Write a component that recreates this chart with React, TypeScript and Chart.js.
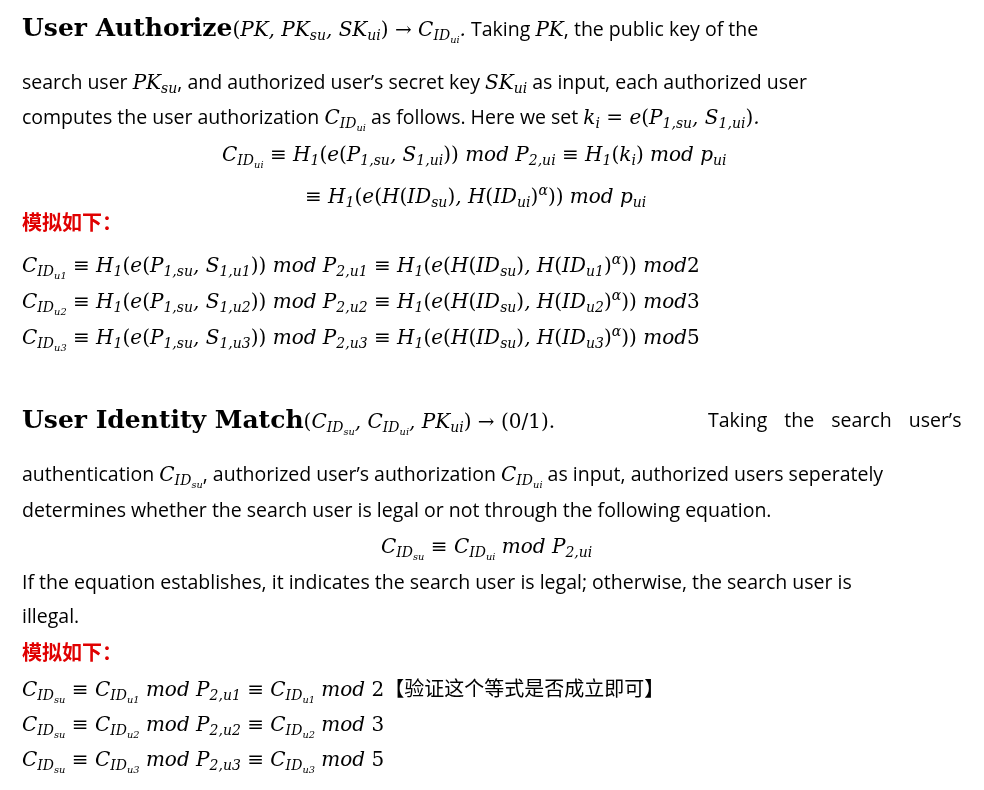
import { useEffect, useRef } from 'react';
import { Chart, registerables } from 'chart.js';

Chart.register(...registerables);

// simulated users and their moduli
const users = ['u1', 'u2', 'u3'];
const moduli = [2, 3, 5];

const mathFont = '"DejaVu Serif", serif';
const textFont = '"Open Sans", sans-serif';

const M = ({ children }: any) => (
  <span style={{ fontFamily: mathFont, fontStyle: 'italic', fontSize: 20 }}>{children}</span>
);
const R = ({ children }: any) => (
  <span style={{ fontFamily: mathFont, fontStyle: 'normal' }}>{children}</span>
);
const S = ({ children }: any) => (
  <sub style={{ fontSize: '0.7em', verticalAlign: '-0.3em', lineHeight: 0 }}>{children}</sub>
);
const CID = ({ s }: { s: string }) => (
  <M>C<S>ID<S>{s}</S></S></M>
);

const Line = ({ y, x = 22, children, style }: any) => (
  <div style={{ position: 'absolute', top: y - 15, left: x, height: 30, lineHeight: '30px', whiteSpace: 'nowrap', fontFamily: textFont, fontSize: 19.5, color: '#000', ...style }}>
    {children}
  </div>
);

const Red = ({ y }: { y: number }) => (
  <Line y={y} style={{ color: '#e00000', fontFamily: '"Noto Sans CJK SC", sans-serif', fontWeight: 700, fontSize: 20 }}>模拟如下：</Line>
);

export default function App() {
  const ref = useRef<HTMLCanvasElement>(null);
  useEffect(() => {
    if (!ref.current) return;
    const chart = new Chart(ref.current, {
      type: 'scatter',
      data: { datasets: [{ data: [] }] },
      options: {
        animation: false,
        responsive: false,
        plugins: { legend: { display: false }, tooltip: { enabled: false } },
        scales: { x: { display: false }, y: { display: false } },
      },
    });
    return () => chart.destroy();
  }, []);

  return (
    <div style={{ position: 'relative', width: 984, height: 790, margin: -8, background: '#fff', overflow: 'hidden' }}>
      <canvas ref={ref} width={984} height={790} style={{ position: 'absolute', left: 0, top: 0 }} />
      <Line y={28}>
        <b style={{ fontFamily: mathFont, fontSize: 25 }}>User Authorize</b>
        <M><R>(</R>PK, PK<S>su</S>, SK<S>ui</S><R>) → </R>C<S>ID<S>ui</S></S>.</M>
        {'  '}Taking <M>PK</M>, the public key of the
      </Line>
      <Line y={82}>
        search user <M>PK<S>su</S></M>, and authorized user’s secret key <M>SK<S>ui</S></M> as input, each authorized user
      </Line>
      <Line y={117}>
        computes the user authorization <CID s="ui" /> as follows. Here we set <M>k<S>i</S> <R>=</R> e<R>(</R>P<S>1,su</S>, S<S>1,ui</S><R>)</R>.</M>
      </Line>
      <Line y={154} x={222}>
        <M>C<S>ID<S>ui</S></S> <R>≡</R> H<S>1</S><R>(</R>e<R>(</R>P<S>1,su</S>, S<S>1,ui</S><R>))</R> mod P<S>2,ui</S> <R>≡</R> H<S>1</S><R>(</R>k<S>i</S><R>)</R> mod p<S>ui</S></M>
      </Line>
      <Line y={190} x={305}>
        <M><R>≡</R> H<S>1</S><R>(</R>e<R>(</R>H<R>(</R>ID<S>su</S><R>)</R>, H<R>(</R>ID<S>ui</S><R>)</R><sup style={{ fontSize: '0.7em' }}>α</sup><R>))</R> mod p<S>ui</S></M>
      </Line>
      <Red y={222} />
      {users.map((u, i) => (
        <Line key={u} y={259 + i * 36}>
          <M>C<S>ID<S>{u}</S></S> <R>≡</R> H<S>1</S><R>(</R>e<R>(</R>P<S>1,su</S>, S<S>1,{u}</S><R>))</R> mod P<S>2,{u}</S> <R>≡</R> H<S>1</S><R>(</R>e<R>(</R>H<R>(</R>ID<S>su</S><R>)</R>, H<R>(</R>ID<S>{u}</S><R>)</R><sup style={{ fontSize: '0.7em' }}>α</sup><R>))</R> mod<R>{moduli[i]}</R></M>
        </Line>
      ))}
      <Line y={420}>
        <b style={{ fontFamily: mathFont, fontSize: 25 }}>User Identity Match</b>
        <M><R>(</R>C<S>ID<S>su</S></S>, C<S>ID<S>ui</S></S>, PK<S>ui</S><R>) → (0/1).</R></M>
      </Line>
      <Line y={420} x={708} style={{ wordSpacing: 12 }}>Taking the search user’s</Line>
      <Line y={474}>
        authentication <CID s="su" />, authorized user’s authorization <CID s="ui" /> as input, authorized users seperately
      </Line>
      <Line y={510}>determines whether the search user is legal or not through the following equation.</Line>
      <Line y={546} x={381}>
        <M>C<S>ID<S>su</S></S> <R>≡</R> C<S>ID<S>ui</S></S> mod P<S>2,ui</S></M>
      </Line>
      <Line y={582}>If the equation establishes, it indicates the search user is legal; otherwise, the search user is</Line>
      <Line y={616}>illegal.</Line>
      <Red y={652} />
      {users.map((u, i) => (
        <Line key={u} y={688 + i * 35.5}>
          <M>C<S>ID<S>su</S></S> <R>≡</R> C<S>ID<S>{u}</S></S> mod P<S>2,{u}</S> <R>≡</R> C<S>ID<S>{u}</S></S> mod <R>{moduli[i]}</R></M>
          {i === 0 && <span style={{ fontFamily: '"Noto Sans CJK SC", serif', fontSize: 20 }}>【验证这个等式是否成立即可】</span>}
        </Line>
      ))}
    </div>
  );
}
